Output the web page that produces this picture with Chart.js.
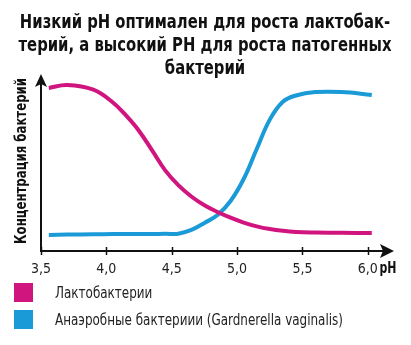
<!DOCTYPE html>
<html>
<head>
<meta charset="utf-8">
<script src="https://cdn.jsdelivr.net/npm/chart.js@4"></script>
<style>
  body { margin: 0; background: #fff; }
  #wrap { position: relative; width: 411px; height: 345px; }
  #legend { position: absolute; left: 14px; top: 283px; font-family: 'DejaVu Sans Condensed', sans-serif; font-size: 16px; color: #222; }
  .item { display: flex; align-items: center; height: 19px; margin-bottom: 8px; white-space: nowrap; }
  .box { width: 19px; height: 19px; margin-right: 22px; flex: none; }
  .item span { display: inline-block; transform-origin: left center; }
</style>
</head>
<body>
<div id="wrap">
  <canvas id="chart" width="411" height="345"></canvas>
  <div id="legend"></div>
</div>
<script>
const titleLines = ["Низкий pH оптимален для роста лактобак-", "терий, а высокий РН для роста патогенных", "бактерий"];
const yTitle = "Концентрация бактерий";
const xUnit = "pH";
const seriesNames = ["Лактобактерии", "Анаэробные бактериии (Gardnerella vaginalis)"];
const seriesColors = ["#d1157e", "#1b9ad8"];

const xTicks = [3.5, 4.0, 4.5, 5.0, 5.5, 6.0];
const phValues = [3.56, 3.7, 3.9, 4.05, 4.15, 4.25, 4.35, 4.45, 4.55, 4.65, 4.75, 4.85, 4.95, 5.05, 5.15, 5.25, 5.35, 5.45, 5.6, 5.8, 6.03];
const lactoValues = [90.6, 92.2, 89.6, 82.5, 75.3, 66.7, 55.9, 44.8, 36.6, 30.3, 25.4, 21.7, 18.5, 15.8, 13.7, 12.2, 11.2, 10.6, 10.3, 10.1, 10];
const anaerobeValues = [8.9, 9.1, 9.3, 9.4, 9.4, 9.4, 9.4, 9.6, 9.6, 11.7, 15.6, 20, 27.8, 40, 56.7, 73, 82.9, 86.4, 88.3, 88.3, 86.7];

const FONT = "'DejaVu Sans Condensed', sans-serif";

const toPoints = vals => phValues.map((x, i) => ({ x: x, y: vals[i] }));

// the original uses a narrow typeface, so squeeze the text horizontally
function narrowText(ctx, text, x, y, sx, angle) {
  ctx.save();
  ctx.translate(x, y);
  if (angle) ctx.rotate(angle);
  ctx.scale(sx, 1);
  ctx.fillText(text, 0, 0);
  ctx.restore();
}
const squeeze = (ctx, text, width) => Math.min(1, width / ctx.measureText(text).width);

const textPlugin = {
  id: 'texts',
  afterDraw(chart) {
    const ctx = chart.ctx;
    ctx.save();
    ctx.fillStyle = '#111';
    ctx.textAlign = 'center';
    ctx.textBaseline = 'alphabetic';
    ctx.font = "bold 20px " + FONT;
    const sx = squeeze(ctx, titleLines[1], 373);
    titleLines.forEach((line, i) => narrowText(ctx, line, 205, 27.5 + i * 23.3, sx));
    ctx.textBaseline = 'middle';
    ctx.font = "bold 15px " + FONT;
    narrowText(ctx, yTitle, 22, 161, squeeze(ctx, yTitle, 166), -Math.PI / 2);
    narrowText(ctx, xUnit, 388, 269, squeeze(ctx, xUnit, 17));
    ctx.restore();
  }
};

// axes with crossing ticks and arrow heads
const axesPlugin = {
  id: 'axes',
  afterDraw(chart) {
    const ctx = chart.ctx;
    const a = chart.chartArea;
    const xs = chart.scales.x;
    ctx.save();
    ctx.strokeStyle = '#111';
    ctx.fillStyle = '#111';
    ctx.lineWidth = 2;
    ctx.beginPath();
    ctx.moveTo(a.left, a.top + 8);
    ctx.lineTo(a.left, a.bottom);
    ctx.lineTo(a.right - 8, a.bottom);
    ctx.stroke();
    ctx.beginPath();
    ctx.moveTo(a.right, a.bottom);
    ctx.lineTo(a.right - 14, a.bottom - 7);
    ctx.lineTo(a.right - 11, a.bottom);
    ctx.lineTo(a.right - 14, a.bottom + 7);
    ctx.closePath();
    ctx.fill();
    ctx.beginPath();
    ctx.moveTo(a.left, a.top + 3);
    ctx.lineTo(a.left - 6, a.top + 16);
    ctx.lineTo(a.left, a.top + 13);
    ctx.lineTo(a.left + 6, a.top + 16);
    ctx.closePath();
    ctx.fill();
    ctx.lineWidth = 1.5;
    xTicks.forEach(v => {
      const px = Math.round(xs.getPixelForValue(v)) + 0.5;
      ctx.beginPath();
      ctx.moveTo(px, a.bottom - 4);
      ctx.lineTo(px, a.bottom + 4);
      ctx.stroke();
    });
    ctx.restore();
  }
};

const chart = new Chart(document.getElementById('chart'), {
  type: 'line',
  data: {
    datasets: [
      { label: seriesNames[0], data: toPoints(lactoValues), borderColor: seriesColors[0], backgroundColor: seriesColors[0] },
      { label: seriesNames[1], data: toPoints(anaerobeValues), borderColor: seriesColors[1], backgroundColor: seriesColors[1] }
    ]
  },
  options: {
    responsive: false,
    animation: false,
    elements: {
      line: { borderWidth: 4, tension: 0.4 },
      point: { radius: 0 }
    },
    layout: { padding: { left: 4, right: 17, top: 71, bottom: 60 } },
    plugins: {
      legend: { display: false },
      tooltip: { enabled: false },
      title: { display: false }
    },
    scales: {
      x: {
        type: 'linear',
        min: 3.5,
        max: 6.2,
        grid: { display: false, drawTicks: false },
        border: { display: false },
        afterBuildTicks: s => { s.ticks = xTicks.map(v => ({ value: v })); },
        afterFit: s => { s.height = 34; },
        ticks: {
          padding: 10,
          color: '#222',
          font: { family: FONT, size: 14 },
          callback: v => v.toFixed(1).replace('.', ',')
        }
      },
      y: {
        min: 0,
        max: 100,
        grid: { display: false, drawTicks: false },
        border: { display: false },
        ticks: { display: false },
        afterFit: s => { s.width = 37; }
      }
    }
  },
  plugins: [axesPlugin, textPlugin]
});

const legend = document.getElementById('legend');
const labels = chart.data.datasets.map(ds => {
  const row = document.createElement('div');
  row.className = 'item';
  const box = document.createElement('div');
  box.className = 'box';
  box.style.background = ds.borderColor;
  const label = document.createElement('span');
  label.textContent = ds.label;
  row.appendChild(box);
  row.appendChild(label);
  legend.appendChild(row);
  return label;
});
const legendScale = Math.min(1, 288 / labels[1].getBoundingClientRect().width);
labels.forEach(l => { l.style.transform = 'scaleX(' + legendScale + ')'; });
</script>
</body>
</html>
